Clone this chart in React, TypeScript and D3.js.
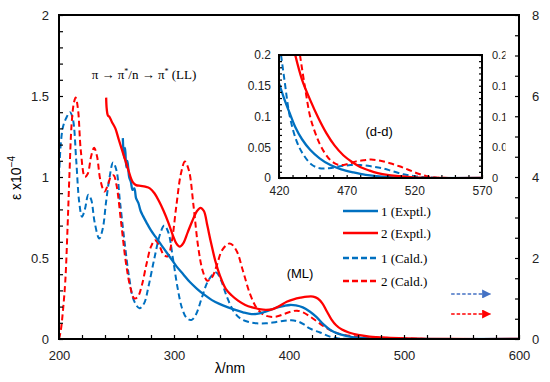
import * as d3 from "d3";
import { useEffect, useRef } from "react";

// main spectra: [wavelength nm, epsilon x10^-4]
const blueExptl: [number, number][] = [
    [255.5, 1.24], [256.5, 1.12], [257.5, 1.18], [258.5, 1.06], [259.5, 1.1], [261, 1.0], [262.5, 0.97],
    [264, 0.92], [265.5, 0.93], [267, 0.87], [269, 0.84], [271, 0.79], [273, 0.76], [276, 0.72], [280, 0.67],
    [284, 0.63], [288, 0.59], [292, 0.55], [297, 0.5], [302, 0.45], [308, 0.4], [314, 0.35], [320, 0.31],
    [326, 0.275], [333, 0.24], [340, 0.215], [347, 0.195], [354, 0.178], [360, 0.165], [366, 0.155],
    [372, 0.155], [378, 0.165], [384, 0.18], [390, 0.195], [396, 0.205], [401, 0.21], [406, 0.207],
    [412, 0.195], [418, 0.17], [424, 0.135], [430, 0.09], [436, 0.056], [442, 0.035], [448, 0.022],
    [455, 0.012], [465, 0.006], [480, 0.002], [500, 0], [600, 0]
];
const redExptl: [number, number][] = [
    [241, 1.49], [241.5, 1.42], [242.5, 1.38], [244, 1.37], [246, 1.34], [249, 1.3], [252, 1.23], [256, 1.14],
    [260, 1.05], [264, 0.97], [267, 0.95], [271, 0.945], [275, 0.94], [279, 0.93], [283, 0.9], [287, 0.85],
    [291, 0.79], [295, 0.72], [299, 0.64], [302, 0.59], [305, 0.57], [308, 0.59], [312, 0.66], [316, 0.73],
    [320, 0.79], [323, 0.81], [326, 0.79], [329, 0.7], [332, 0.6], [336, 0.48], [340, 0.39], [345, 0.31],
    [350, 0.27], [356, 0.235], [362, 0.21], [368, 0.195], [374, 0.185], [380, 0.18], [386, 0.185],
    [392, 0.205], [398, 0.23], [404, 0.245], [410, 0.255], [416, 0.262], [421, 0.262], [425, 0.25],
    [429, 0.22], [433, 0.17], [437, 0.12], [441, 0.085], [446, 0.058], [452, 0.04], [460, 0.025],
    [470, 0.015], [485, 0.008], [500, 0.004], [520, 0.001], [540, 0], [600, 0]
];
const blueCald: [number, number][] = [
    [200, 1.0], [201.5, 1.2], [203.5, 1.31], [206, 1.36], [209.5, 1.4], [212, 1.36], [215, 1.1], [217.5, 0.85],
    [220, 0.755], [222.5, 0.8], [225.5, 0.89], [228, 0.86], [231, 0.72], [235, 0.62], [238, 0.68], [241, 0.85],
    [244, 1.0], [247, 1.09], [250, 1.04], [253, 0.85], [257, 0.6], [261, 0.38], [265, 0.24], [270, 0.19],
    [274, 0.22], [278, 0.33], [283, 0.5], [288, 0.65], [291.5, 0.7], [295, 0.66], [299, 0.5], [303, 0.32],
    [307, 0.19], [311, 0.13], [315, 0.117], [319, 0.15], [324, 0.25], [329, 0.35], [334, 0.4], [337, 0.41],
    [341, 0.36], [346, 0.26], [352, 0.17], [358, 0.125], [365, 0.105], [372, 0.097], [380, 0.097],
    [388, 0.104], [396, 0.113], [402, 0.116], [408, 0.108], [413, 0.09], [418, 0.065], [427, 0.04],
    [435, 0.016], [442, 0.005], [450, 0.001], [460, 0], [600, 0]
];
const redCald: [number, number][] = [
    [200, 0], [201.5, 0.05], [203.5, 0.18], [205.5, 0.36], [207.5, 0.7], [209, 1.0], [211, 1.33], [213, 1.46],
    [214.5, 1.49], [216.5, 1.42], [219, 1.16], [222.5, 1.0], [225, 1.02], [228, 1.13], [230.5, 1.18],
    [233, 1.13], [236, 0.98], [239.5, 0.91], [242.5, 0.95], [245, 1.0], [247.5, 1.01], [250, 0.95],
    [254, 0.72], [258, 0.48], [262, 0.32], [265.5, 0.25], [268.5, 0.26], [272, 0.33], [276, 0.46],
    [280, 0.57], [283.5, 0.61], [287, 0.58], [291, 0.52], [294.5, 0.51], [298, 0.6], [302, 0.82],
    [306, 1.02], [309.5, 1.095], [313, 1.04], [317, 0.82], [321, 0.57], [325, 0.42], [329, 0.36],
    [333, 0.38], [337, 0.45], [342, 0.55], [348.5, 0.59], [354, 0.55], [360, 0.42], [366, 0.28],
    [372, 0.19], [378, 0.15], [384, 0.137], [390, 0.14], [396, 0.155], [402, 0.17], [407, 0.175],
    [412, 0.165], [418, 0.14], [424, 0.11], [430, 0.08], [437, 0.05], [445, 0.03], [455, 0.018],
    [465, 0.012], [480, 0.008], [495, 0.005], [510, 0.002], [525, 0], [600, 0]
];

// inset (d-d region)
const blueExptlInset: [number, number][] = [
    [420, 0.154], [424, 0.128], [428, 0.105], [432, 0.083], [437, 0.063], [443, 0.046], [450, 0.032],
    [458, 0.021], [466, 0.014], [475, 0.009], [484, 0.005], [492, 0.003], [505, 0.001], [520, 0], [570, 0]
];
const blueCaldInset: [number, number][] = [
    [421.5, 0.2], [424, 0.16], [428, 0.1], [433, 0.06], [438, 0.038], [444, 0.022], [450, 0.016],
    [457, 0.016], [465, 0.019], [473, 0.021], [480, 0.021], [488, 0.019], [496, 0.016], [504, 0.011],
    [512, 0.006], [520, 0.003], [530, 0.001], [540, 0], [570, 0]
];
const redExptlInset: [number, number][] = [
    [432, 0.2], [437, 0.16], [443, 0.127], [449, 0.098], [455, 0.073], [461, 0.053], [467.5, 0.037],
    [474, 0.026], [480, 0.018], [487, 0.012], [493, 0.008], [500, 0.005], [510, 0.003], [520, 0.001],
    [535, 0], [570, 0]
];
const redCaldInset: [number, number][] = [
    [435.5, 0.2], [439, 0.15], [443, 0.1], [446.5, 0.075], [450, 0.056], [454, 0.04], [458, 0.029],
    [462, 0.023], [466, 0.021], [471, 0.023], [477, 0.027], [483, 0.029], [488, 0.03], [495, 0.028],
    [502, 0.024], [509, 0.019], [516, 0.013], [523, 0.007], [529, 0.003], [535, 0.001], [545, 0], [570, 0]
];

const xTicks = [200, 300, 400, 500, 600];
const yTicks = [0, 0.5, 1, 1.5, 2];
const yRightTicks = [0, 2, 4, 6, 8];
const insetXTicks = [420, 470, 520, 570];
const insetYTicks = [0, 0.05, 0.1, 0.15, 0.2];

const legendItems = [
    { label: "1 (Exptl.)", color: "#0070C0", dashed: false },
    { label: "2 (Exptl.)", color: "#FF0000", dashed: false },
    { label: "1 (Cald.)", color: "#0070C0", dashed: true },
    { label: "2 (Cald.)", color: "#FF0000", dashed: true }
];

const BLUE = "#0070C0";
const RED = "#FF0000";
const SANS = "'Liberation Sans', Arial, sans-serif";
const SERIF = "'Liberation Serif', 'Times New Roman', serif";

const App = () => {
    const chartRef = useRef<SVGSVGElement>(null);

    useEffect(() => {
        const svg = d3.select(chartRef.current);
        svg.selectAll("*").remove();

        const x = d3.scaleLinear().domain([200, 600]).range([59, 519]);
        const y = d3.scaleLinear().domain([0, 2]).range([339, 15]);
        const yRight = d3.scaleLinear().domain([0, 8]).range([339, 15]);
        const ix = d3.scaleLinear().domain([420, 570]).range([279, 482]);
        const iy = d3.scaleLinear().domain([0, 0.2]).range([178, 55]);

        const defs = svg.append("defs");
        defs.append("clipPath").attr("id", "mainClip")
            .append("rect").attr("x", 59).attr("y", 15).attr("width", 460).attr("height", 324);
        defs.append("clipPath").attr("id", "insetClip")
            .append("rect").attr("x", 279).attr("y", 55).attr("width", 203).attr("height", 123);
        defs.append("clipPath").attr("id", "insetLabelClip")
            .append("rect").attr("x", 485).attr("y", 40).attr("width", 20.5).attr("height", 150);
        ["blueHead", "redHead"].forEach((id, i) => {
            defs.append("marker").attr("id", id)
                .attr("viewBox", "0 0 10 10").attr("refX", 9).attr("refY", 5)
                .attr("markerWidth", 10).attr("markerHeight", 9).attr("markerUnits", "userSpaceOnUse")
                .attr("orient", "auto")
                .append("path").attr("d", "M0,0 L10,5 L0,10 Z")
                .attr("fill", i === 0 ? "#4472C4" : RED);
        });

        const line = d3.line<[number, number]>()
            .x(d => x(d[0])).y(d => y(d[1]))
            .curve(d3.curveCatmullRom.alpha(0.5));
        const insetLine = d3.line<[number, number]>()
            .x(d => ix(d[0])).y(d => iy(d[1]))
            .curve(d3.curveCatmullRom.alpha(0.5));

        // main curves
        const plot = svg.append("g").attr("clip-path", "url(#mainClip)");
        const series = [
            { data: blueCald, color: BLUE, dashed: true },
            { data: redCald, color: RED, dashed: true },
            { data: blueExptl, color: BLUE, dashed: false },
            { data: redExptl, color: RED, dashed: false }
        ];
        series.forEach(s => {
            plot.append("path")
                .attr("d", line(s.data))
                .attr("fill", "none")
                .attr("stroke", s.color)
                .attr("stroke-width", s.dashed ? 2 : 2.3)
                .attr("stroke-dasharray", s.dashed ? "6,3.5" : null);
        });

        // main frame and ticks
        const axisStyle = (g: any, size: number) => {
            g.select(".domain").remove();
            g.selectAll("line").attr("stroke", "#000").attr("stroke-width", 1.2);
            g.selectAll("text").style("font-family", SANS).style("font-size", `${size}px`).attr("fill", "#222");
        };

        svg.append("g").attr("transform", "translate(0,339)")
            .call(d3.axisBottom(x).tickValues(d3.range(200, 601, 20)).tickFormat(() => "").tickSizeInner(-4).tickSizeOuter(0))
            .call((g: any) => axisStyle(g, 13));
        svg.append("g").attr("transform", "translate(0,339)")
            .call(d3.axisBottom(x).tickValues(xTicks).tickSize(0).tickPadding(12).tickFormat(d3.format("d")))
            .call((g: any) => axisStyle(g, 13));

        svg.append("g").attr("transform", "translate(59,0)")
            .call(d3.axisLeft(y).tickValues(d3.range(0, 2.001, 0.1)).tickFormat(() => "").tickSizeInner(-4).tickSizeOuter(0))
            .call((g: any) => axisStyle(g, 13));
        svg.append("g").attr("transform", "translate(59,0)")
            .call(d3.axisLeft(y).tickValues(yTicks).tickSize(0).tickPadding(10).tickFormat(d3.format("")))
            .call((g: any) => axisStyle(g, 13));

        svg.append("g").attr("transform", "translate(519,0)")
            .call(d3.axisRight(yRight).tickValues(d3.range(0, 8.001, 0.5)).tickFormat(() => "").tickSizeInner(-4).tickSizeOuter(0))
            .call((g: any) => axisStyle(g, 13));
        svg.append("g").attr("transform", "translate(519,0)")
            .call(d3.axisRight(yRight).tickValues(yRightTicks).tickSize(0).tickPadding(13).tickFormat(d3.format("d")))
            .call((g: any) => axisStyle(g, 13));

        svg.append("rect")
            .attr("x", x(200)).attr("y", y(2))
            .attr("width", x(600) - x(200)).attr("height", y(0) - y(2))
            .attr("fill", "none").attr("stroke", "#000").attr("stroke-width", 2);

        svg.append("text")
            .attr("x", 230).attr("y", 373)
            .attr("text-anchor", "middle")
            .style("font-family", SANS).style("font-size", "14px")
            .text("λ/nm");

        const yLabel = svg.append("text")
            .attr("transform", "translate(21,178) rotate(-90)")
            .attr("text-anchor", "middle")
            .style("font-family", SANS).style("font-size", "14px");
        yLabel.append("tspan").text("ε x10");
        yLabel.append("tspan").attr("dy", -6).style("font-size", "10px").text("−4");

        // annotations
        const ll = svg.append("text")
            .attr("x", 144).attr("y", 79)
            .attr("text-anchor", "middle")
            .style("font-family", SERIF).style("font-size", "13px");
        ll.append("tspan").text("π → π");
        ll.append("tspan").attr("dy", -5).style("font-size", "8px").text("*");
        ll.append("tspan").attr("dy", 5).text("/n → π");
        ll.append("tspan").attr("dy", -5).style("font-size", "8px").text("*");
        ll.append("tspan").attr("dy", 5).text(" (LL)");

        svg.append("text")
            .attr("x", x(409.6)).attr("y", 278)
            .attr("text-anchor", "middle")
            .style("font-family", SANS).style("font-size", "13px")
            .text("(ML)");

        // legend
        legendItems.forEach((item, i) => {
            const ly = [211, 233, 258, 281][i];
            svg.append("line")
                .attr("x1", 343).attr("x2", 378).attr("y1", ly).attr("y2", ly)
                .attr("stroke", item.color).attr("stroke-width", 2.3)
                .attr("stroke-dasharray", item.dashed ? "6,3" : null);
            svg.append("text")
                .attr("x", 381).attr("y", ly + 4.5)
                .style("font-family", SERIF).style("font-size", "13px")
                .text(item.label);
        });

        // arrows pointing at right axis
        [{ v: 0.278, color: "#4472C4", head: "blueHead" }, { v: 0.154, color: RED, head: "redHead" }].forEach(a => {
            svg.append("line")
                .attr("x1", x(541)).attr("x2", x(575))
                .attr("y1", y(a.v)).attr("y2", y(a.v))
                .attr("stroke", a.color).attr("stroke-width", 1.5)
                .attr("stroke-dasharray", "3.5,2")
                .attr("marker-end", `url(#${a.head})`);
        });

        // inset
        svg.append("rect")
            .attr("x", ix(420)).attr("y", iy(0.2))
            .attr("width", ix(570) - ix(420)).attr("height", iy(0) - iy(0.2))
            .attr("fill", "#fff");

        const inset = svg.append("g").attr("clip-path", "url(#insetClip)");
        [
            { data: blueCaldInset, color: BLUE, dashed: true },
            { data: redCaldInset, color: RED, dashed: true },
            { data: blueExptlInset, color: BLUE, dashed: false },
            { data: redExptlInset, color: RED, dashed: false }
        ].forEach(s => {
            inset.append("path")
                .attr("d", insetLine(s.data))
                .attr("fill", "none")
                .attr("stroke", s.color)
                .attr("stroke-width", s.dashed ? 2 : 2.3)
                .attr("stroke-dasharray", s.dashed ? "6,3.5" : null);
        });

        svg.append("g").attr("transform", "translate(0,178)")
            .call(d3.axisBottom(ix).tickValues(d3.range(420, 571, 10)).tickFormat(() => "").tickSizeInner(-3).tickSizeOuter(0))
            .call((g: any) => axisStyle(g, 12));
        svg.append("g").attr("transform", "translate(0,178)")
            .call(d3.axisBottom(ix).tickValues(insetXTicks).tickSize(0).tickPadding(8).tickFormat(d3.format("d")))
            .call((g: any) => axisStyle(g, 12));
        svg.append("g").attr("transform", "translate(279,0)")
            .call(d3.axisLeft(iy).tickValues(d3.range(0, 0.2001, 0.01)).tickFormat(() => "").tickSizeInner(-3).tickSizeOuter(0))
            .call((g: any) => axisStyle(g, 12));
        svg.append("g").attr("transform", "translate(279,0)")
            .call(d3.axisLeft(iy).tickValues(insetYTicks).tickSize(0).tickPadding(8).tickFormat(d3.format("")))
            .call((g: any) => axisStyle(g, 12));
        svg.append("g").attr("transform", "translate(482,0)")
            .call(d3.axisRight(iy).tickValues(d3.range(0, 0.2001, 0.01)).tickFormat(() => "").tickSizeInner(-3).tickSizeOuter(0))
            .call((g: any) => axisStyle(g, 12));
        // right inset labels are cut off in the original, keep that
        svg.append("g").attr("clip-path", "url(#insetLabelClip)")
            .append("g").attr("transform", "translate(482,0)")
            .call(d3.axisRight(iy).tickValues(insetYTicks).tickSize(0).tickPadding(10).tickFormat(d3.format("")))
            .call((g: any) => axisStyle(g, 11));

        svg.append("rect")
            .attr("x", ix(420)).attr("y", iy(0.2))
            .attr("width", ix(570) - ix(420)).attr("height", iy(0) - iy(0.2))
            .attr("fill", "none").attr("stroke", "#000").attr("stroke-width", 2);

        svg.append("text")
            .attr("x", ix(494)).attr("y", 136)
            .attr("text-anchor", "middle")
            .style("font-family", SANS).style("font-size", "13px")
            .text("(d-d)");
    }, []);

    return (
        <svg
            ref={chartRef}
            width={550}
            height={382}
            style={{ position: "absolute", left: 0, top: 0, background: "#fff" }}
        />
    );
};

export default App;
